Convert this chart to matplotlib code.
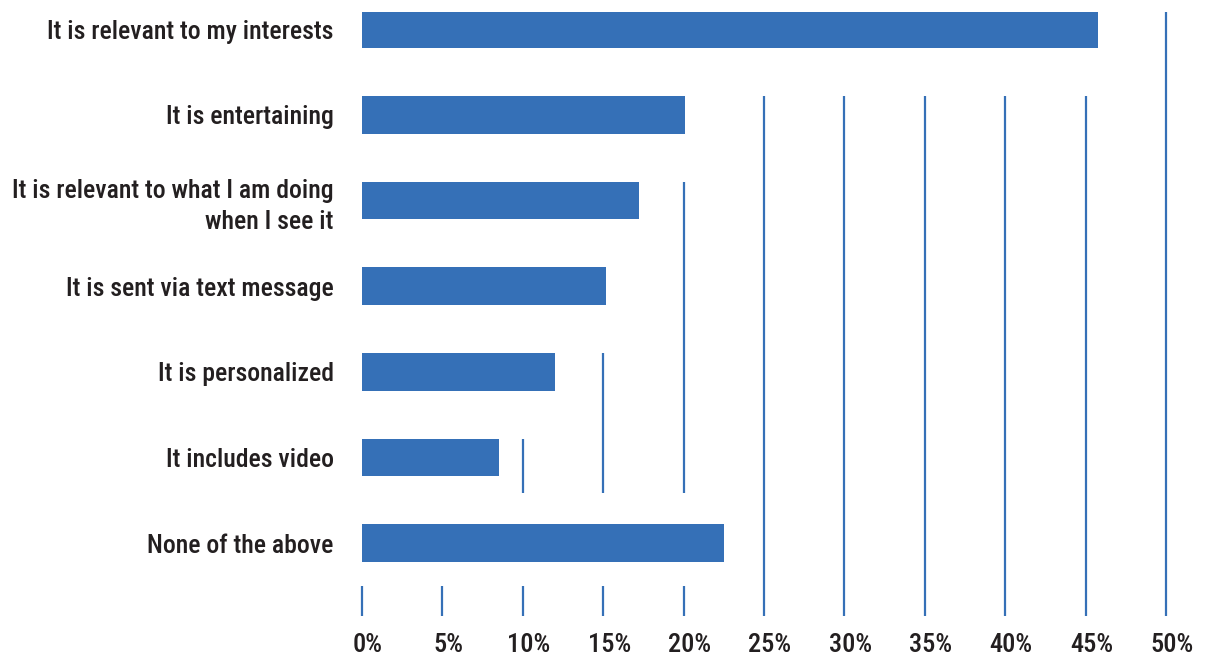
import matplotlib
matplotlib.use("Agg")
import matplotlib.pyplot as plt
from matplotlib import font_manager
import matplotlib.transforms as mtransforms

categories = [
    "It is relevant to my interests",
    "It is entertaining",
    "It is relevant to what I am doing\nwhen I see it",
    "It is sent via text message",
    "It is personalized",
    "It includes video",
    "None of the above",
]
values = [45.8, 20.1, 17.2, 15.2, 12.0, 8.5, 22.5]
tick_values = [0, 5, 10, 15, 20, 25, 30, 35, 40, 45, 50]
tick_labels = [f"{v}%" for v in tick_values]

BLUE = "#3570b7"
TEXT = "#231f20"

names = {f.name for f in font_manager.fontManager.ttflist}
family = "DejaVu Sans"
for cand in ["Roboto Condensed", "Archivo Narrow", "Fira Sans Condensed", "Barlow Semi Condensed"]:
    if cand in names:
        family = cand
        break

W, H = 1205, 658
fig = plt.figure(figsize=(W / 100, H / 100), dpi=100)
ax_left, ax_right = 362, 1166
ax_top, ax_bot = 12, 616
ax = fig.add_axes([ax_left / W, 1 - ax_bot / H, (ax_right - ax_left) / W, (ax_bot - ax_top) / H])

n = len(categories)
ypos = list(range(n))
ax.set_xlim(0, 50)
ax.set_ylim(6.85, -0.2)

bar_h = 0.44
ax.barh(ypos, values, height=bar_h, color=BLUE, zorder=3)

# gridline segments: visible in a band only where the gridline lies beyond the bar
top_off = bar_h / 2
bands = []
for k in range(n):
    if k == 0:
        lo = -0.2
    elif k == n - 1:
        lo = 5.41
    else:
        lo = k - top_off
    if k == n - 2:
        hi = 5.41
    elif k == n - 1:
        hi = 6.50
    else:
        hi = k + 1 - top_off
    bands.append((lo, hi, values[k]))
bands.append((6.50, 6.85, -1))

for g in tick_values:
    for lo, hi, v in bands:
        if g > v:
            ax.vlines(g, lo, hi, colors=BLUE, linewidth=1.6, zorder=2, clip_on=False)

for s in ax.spines.values():
    s.set_visible(False)
ax.set_xticks(tick_values)
ax.set_xticklabels(tick_labels)
ax.set_yticks(ypos)
ax.set_yticklabels(categories)
ax.tick_params(axis="both", length=0, colors=TEXT)
ax.tick_params(axis="x", pad=12, labelsize=19)
ax.tick_params(axis="y", pad=20.5, labelsize=18.5)
for lab in ax.get_xticklabels() + ax.get_yticklabels():
    lab.set_family(family)
    lab.set_weight("medium")
    lab.set_color(TEXT)
for lab in ax.get_yticklabels():
    lab.set_linespacing(1.35)
off = mtransforms.ScaledTranslation(6 / 100, 0, fig.dpi_scale_trans)
for lab in ax.get_xticklabels():
    lab.set_transform(lab.get_transform() + off)

fig.savefig("out.png", dpi=100, facecolor="white")
